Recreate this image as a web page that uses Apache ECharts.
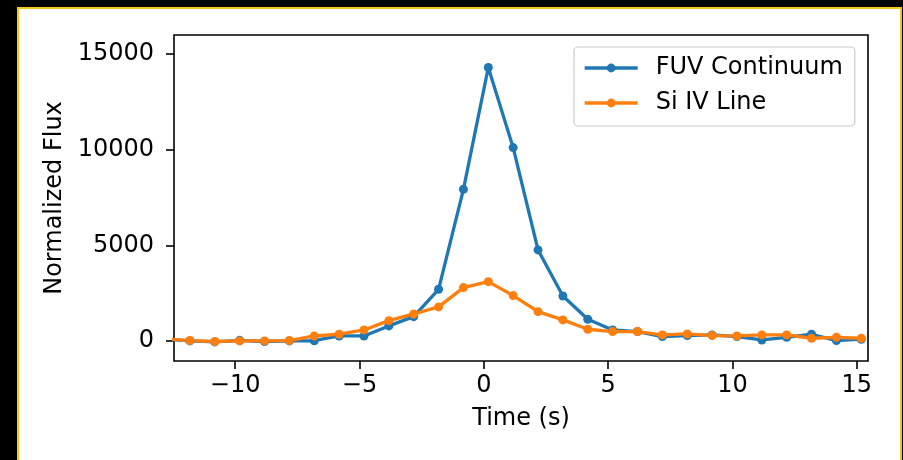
<!DOCTYPE html>
<html>
<head>
<meta charset="UTF-8">
<title></title>
<script src="https://cdn.jsdelivr.net/npm/echarts@6/dist/echarts.min.js"></script>
<style>
body { margin: 0; background: #000; }
#frame { position: absolute; left: 17px; top: 7px; width: 885px; height: 470px;
  box-sizing: border-box; border: 2px solid #f5c518; border-bottom: none; background: #fff; }
#main { position: absolute; left: 0; top: 0; width: 903px; height: 460px; }
</style>
</head>
<body>
<div id="frame"></div>
<div id="main"></div>
<script>
// time axis (s)
var times = [-12.82, -11.82, -10.82, -9.82, -8.82, -7.82, -6.82, -5.82, -4.82, -3.82,
  -2.82, -1.82, -0.82, 0.18, 1.18, 2.18, 3.18, 4.18, 5.18, 6.18,
  7.18, 8.18, 9.18, 10.18, 11.18, 12.18, 13.18, 14.18, 15.18];
var fuv = [100, 0, -50, 30, -30, 0, 10, 260, 260, 785,
  1270, 2700, 7930, 14300, 10110, 4760, 2350, 1130, 575, 490,
  225, 280, 315, 225, 50, 190, 350, 20, 90];
var siiv = [100, 20, -30, 0, 0, 20, 260, 350, 575, 1060,
  1410, 1780, 2790, 3100, 2370, 1530, 1100, 610, 490, 490,
  315, 365, 280, 260, 315, 315, 140, 190, 140];
var xTicks = [-10, -5, 0, 5, 10, 15];
var yTicks = [0, 5000, 10000, 15000];

function pairs(ys) {
  var out = [];
  for (var i = 0; i < times.length; i++) out.push([times[i], ys[i]]);
  return out;
}

var font = 'DejaVu Sans';
var chart = echarts.init(document.getElementById('main'));
var option = {
  backgroundColor: 'transparent',
  animation: false,
  grid: {
    left: 174, right: 35, top: 35, bottom: 99,
    show: true, borderColor: '#000', borderWidth: 1.6, backgroundColor: 'transparent'
  },
  legend: {
    orient: 'vertical',
    left: 574, top: 47,
    padding: [9, 12, 11, 9],
    itemWidth: 53, itemHeight: 11, itemGap: 11,
    borderColor: '#cccccc', borderWidth: 1.2, borderRadius: 4,
    backgroundColor: 'rgba(255,255,255,0.8)',
    lineStyle: { width: 3.3 },
    textStyle: { fontFamily: font, fontSize: 24, color: '#000', lineHeight: 24, padding: [0, 0, 0, 13] },
    data: ['FUV Continuum', 'Si IV Line']
  },
  xAxis: {
    type: 'value',
    min: -12.46, max: 15.45,
    name: 'Time (s)', nameLocation: 'middle', nameGap: 46,
    nameTextStyle: { fontFamily: font, fontSize: 24, color: '#000' },
    axisLine: { show: false, onZero: false },
    axisTick: { show: true, length: 8, lineStyle: { color: '#000', width: 1.6 }, customValues: xTicks },
    axisLabel: {
      fontFamily: font, fontSize: 24, color: '#000', margin: 13, customValues: xTicks,
      formatter: function (v) { return String(v).replace('-', '\u2212'); }
    },
    splitLine: { show: false }
  },
  yAxis: {
    type: 'value',
    min: -1050, max: 16000,
    name: 'Normalized Flux', nameLocation: 'middle', nameGap: 106,
    nameTextStyle: { fontFamily: font, fontSize: 24, color: '#000' },
    axisLine: { show: false, onZero: false },
    axisTick: { show: true, length: 8, lineStyle: { color: '#000', width: 1.6 }, customValues: yTicks },
    axisLabel: {
      fontFamily: font, fontSize: 24, color: '#000', margin: 20, customValues: yTicks,
      formatter: function (v) { return String(v); }
    },
    splitLine: { show: false }
  },
  series: [
    {
      name: 'FUV Continuum', type: 'line', data: pairs(fuv), clip: true,
      symbol: 'circle', symbolSize: 9, showAllSymbol: true,
      lineStyle: { color: '#1f77b4', width: 3.3 },
      itemStyle: { color: '#1f77b4' }
    },
    {
      name: 'Si IV Line', type: 'line', data: pairs(siiv), clip: true,
      symbol: 'circle', symbolSize: 9, showAllSymbol: true,
      lineStyle: { color: '#ff7f0e', width: 3.3 },
      itemStyle: { color: '#ff7f0e' }
    }
  ]
};
chart.setOption(option);
</script>
</body>
</html>
